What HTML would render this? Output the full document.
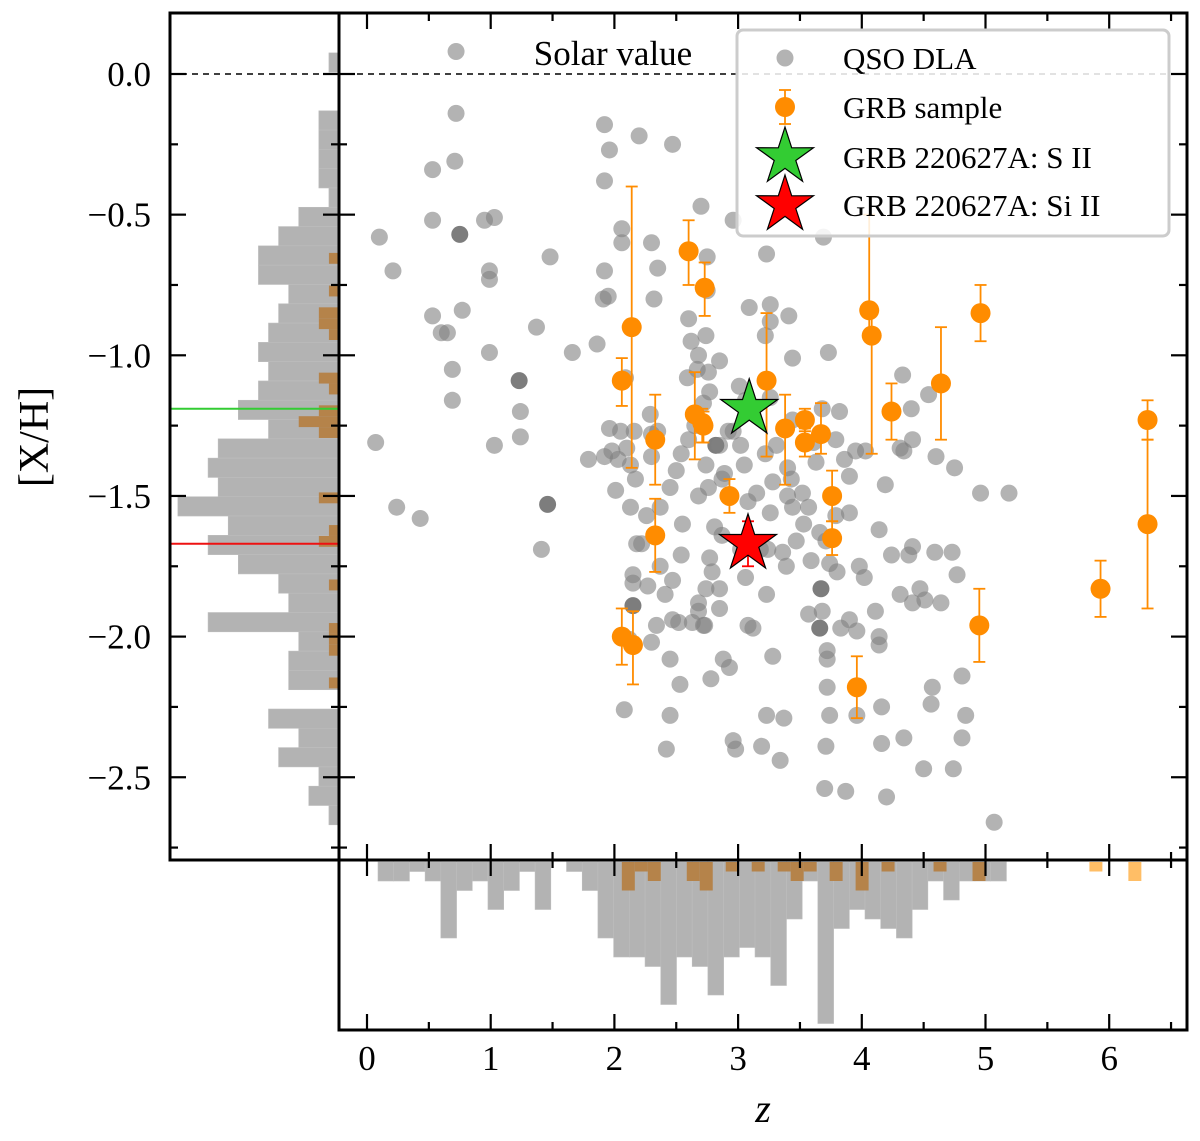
<!DOCTYPE html>
<html><head><meta charset="utf-8"><style>
body{margin:0;background:#fff;}
svg{display:block;font-family:"Liberation Serif",serif;}
</style></head><body>
<svg id="chart" width="1200" height="1141" viewBox="0 0 1200 1141" xmlns="http://www.w3.org/2000/svg">
<defs>
<clipPath id="mainClip"><rect x="339" y="13" width="848" height="847"/></clipPath>
<clipPath id="leftClip"><rect x="170" y="13" width="169" height="847"/></clipPath>
</defs>
<g id="left-hist" clip-path="url(#leftClip)"></g>
<g id="bottom-hist"></g>
<g id="main" clip-path="url(#mainClip)"></g>
<g id="axes"></g>
<g id="legend"></g>
</svg>
<script>
// ---- data ----
const qsoZ = [0.72,0.72,0.71,0.53,0.10,0.21,0.53,0.75,0.95,1.03,0.99,0.99,0.77,0.53,0.65,0.60,0.69,0.69,0.07,0.24,0.43,0.99,1.03,1.23,1.24,1.24,1.48,1.37,1.66,1.46,1.41,1.92,1.96,1.92,2.20,2.47,1.92,1.91,2.06,2.06,2.30,2.35,2.32,1.95,1.86,2.09,2.70,2.96,2.75,2.75,3.23,3.09,3.26,3.26,3.41,3.44,3.69,3.22,3.73,2.60,2.62,2.74,2.68,2.67,2.76,2.59,2.85,2.77,2.72,2.65,2.60,2.82,2.74,3.01,3.06,2.92,3.02,3.05,2.89,2.76,3.08,3.15,3.26,3.44,3.52,3.53,3.66,3.79,3.90,3.43,3.40,3.61,3.79,3.86,3.95,3.82,3.90,4.19,4.40,4.33,4.54,4.41,4.31,4.60,4.75,4.96,5.19,4.34,4.14,4.24,4.38,4.41,4.59,4.73,4.77,4.41,4.47,4.11,3.90,3.83,3.66,3.68,3.72,3.57,3.67,3.39,3.59,3.36,3.24,3.23,2.85,3.08,3.12,2.85,2.68,2.73,2.63,2.47,2.34,2.30,2.45,2.52,2.15,2.15,2.15,2.27,2.26,2.18,2.37,2.55,2.54,2.68,2.45,2.50,2.54,2.30,2.17,2.13,2.03,1.92,1.79,2.01,2.10,2.16,2.29,2.35,2.05,1.96,2.68,2.72,2.12,2.53,2.78,2.93,3.28,3.23,3.37,2.96,3.19,3.34,2.45,2.42,2.08,2.98,3.72,3.72,3.74,3.71,3.70,3.87,4.20,4.16,4.34,3.96,4.14,3.96,4.56,4.81,4.81,4.50,4.74,4.84,5.07,4.57,4.16,4.64,4.14,4.02,3.98,4.31,4.51,3.71,3.80,3.74,3.47,3.02,2.77,2.79,2.74,2.47,2.41,2.37,2.22,1.98,2.13,2.81,2.87,2.85,2.96,2.87,3.22,3.31,3.28,3.40,3.57,3.63,4.03,3.26,3.44,3.68,2.30,3.18,3.06,2.88];
const qsoXH = [0.08,-0.14,-0.31,-0.34,-0.58,-0.70,-0.52,-0.57,-0.52,-0.51,-0.70,-0.73,-0.84,-0.86,-0.92,-0.92,-1.05,-1.16,-1.31,-1.54,-1.58,-0.99,-1.32,-1.09,-1.29,-1.20,-0.65,-0.90,-0.99,-1.53,-1.69,-0.18,-0.27,-0.38,-0.22,-0.25,-0.70,-0.80,-0.55,-0.60,-0.60,-0.69,-0.80,-0.79,-0.96,-1.08,-0.47,-0.52,-0.65,-0.77,-0.64,-0.83,-0.82,-0.88,-0.86,-1.01,-0.58,-0.93,-0.99,-0.87,-0.95,-0.93,-1.00,-1.05,-1.06,-1.08,-1.02,-1.13,-1.17,-1.25,-1.30,-1.32,-1.39,-1.11,-1.16,-1.27,-1.32,-1.39,-1.42,-1.47,-1.52,-1.49,-1.56,-1.54,-1.49,-1.60,-1.63,-1.57,-1.56,-1.44,-1.40,-1.31,-1.30,-1.37,-1.34,-1.20,-1.43,-1.46,-1.19,-1.07,-1.14,-1.30,-1.33,-1.36,-1.40,-1.49,-1.49,-1.34,-1.62,-1.71,-1.71,-1.68,-1.70,-1.70,-1.78,-1.88,-1.83,-1.91,-1.94,-1.97,-1.97,-1.91,-2.05,-1.92,-1.83,-1.75,-1.73,-1.70,-1.69,-1.85,-1.83,-1.96,-1.97,-1.90,-1.91,-1.96,-1.95,-1.94,-1.96,-2.02,-2.08,-1.95,-1.89,-1.78,-1.81,-1.82,-1.57,-1.67,-1.54,-1.60,-1.71,-1.50,-1.47,-1.41,-1.35,-1.36,-1.44,-1.54,-1.37,-1.36,-1.37,-1.48,-1.33,-1.27,-1.21,-1.27,-1.27,-1.26,-1.88,-1.96,-2.01,-2.17,-2.15,-2.11,-2.07,-2.28,-2.29,-2.37,-2.39,-2.44,-2.28,-2.40,-2.26,-2.40,-2.08,-2.18,-2.28,-2.39,-2.54,-2.55,-2.57,-2.38,-2.36,-2.28,-2.00,-1.98,-2.24,-2.14,-2.36,-2.47,-2.47,-2.28,-2.66,-2.18,-2.25,-1.88,-2.03,-1.79,-1.75,-1.85,-1.87,-1.66,-1.77,-1.74,-1.66,-1.69,-1.72,-1.77,-1.83,-1.80,-1.85,-1.75,-1.67,-1.34,-1.39,-1.61,-1.64,-1.32,-1.27,-1.44,-1.35,-1.32,-1.45,-1.50,-1.54,-1.38,-1.34,-1.15,-1.23,-1.19,-1.28,-1.69,-1.79,-2.08];
const qsoDark = [7,23,29,71,120,124,142];
const grbZ =   [2.60,2.73,2.14,2.06,3.23,2.33,2.65,2.71,2.72,3.38,3.54,3.54,3.67,4.06,4.08,4.24,4.64,2.93,3.76,3.76,2.33,2.06,2.15,3.96,4.95,4.96,5.93,6.31,6.31];
const grbXH =  [-0.63,-0.76,-0.90,-1.09,-1.09,-1.30,-1.21,-1.24,-1.25,-1.26,-1.23,-1.31,-1.28,-0.84,-0.93,-1.20,-1.10,-1.50,-1.50,-1.65,-1.64,-2.00,-2.03,-2.18,-1.96,-0.85,-1.83,-1.23,-1.60];
const grbErrUp = [0.11,0.09,0.50,0.08,0.24,0.16,0.15,0.05,0.05,0.12,0.04,0.05,0.11,0.34,0.10,0.10,0.20,0.06,0.09,0.06,0.13,0.10,0.12,0.11,0.13,0.10,0.10,0.07,0.30];
const grbErrLo = [0.12,0.10,0.50,0.09,0.27,0.16,0.16,0.07,0.06,0.20,0.04,0.05,0.07,0.10,0.42,0.10,0.20,0.06,0.09,0.06,0.13,0.10,0.14,0.11,0.13,0.10,0.10,0.07,0.30];
const sStar = {z:3.09, xh:-1.19, err:0.03};
const siStar = {z:3.08, xh:-1.67, err:0.08};
const xhHistCounts = [1,0,0,2,2,2,2,1,4,6,8,8,5,6,7,8,7,8,10,7,12,13,12,16,11,13,10,6,5,13,4,5,5,0,7,4,6,2,3,1];
const xhHistStart = 0.075, xhHistWidth = 0.0686;
const xhGrbCounts = [1,0,0,1,0,2,2,1,0,0,0,2,1,0,2,4,2,0,0,0,0,0,2,0,0,1,2,0,0,0,1,0,0,0,1,1,1,0,0,1];
const xhGrbStart = -0.636, xhGrbWidth = 0.0387;
const zHistCounts = [2,2,1,2,8,3,2,5,3,1,5,0,1,3,8,10,10,11,15,10,11,14,10,9,10,13,6,2,17,7,5,6,7,8,5,2,4,2,2,2];
const zHistStart = 0.089, zHistWidth = 0.127;
const zGrbCounts = [3,1,2,0,0,2,3,0,1,0,1,0,1,2,1,0,2,0,3,0,1,0,0,0,1,0,0,2,0,0,0,0,0,0,0,0,1,0,0,2];
const zGrbStart = 2.06, zGrbWidth = 0.105;
const xTicks = [0,1,2,3,4,5,6];
const yTicks = [0,-0.5,-1,-1.5,-2,-2.5];
const yTickLabels = ["0.0","−0.5","−1.0","−1.5","−2.0","−2.5"];

// ---- axes functions ----
const X = z => 367 + z*123.7;
const Y = v => 74 - v*281.3;
const NS = "http://www.w3.org/2000/svg";
function mk(tag, attrs, parent){const e=document.createElementNS(NS,tag);for(const k in attrs)e.setAttribute(k,attrs[k]);parent.appendChild(e);return e;}
const main=document.getElementById('main'), axes=document.getElementById('axes'), leg=document.getElementById('legend');
const lh=document.getElementById('left-hist'), bh=document.getElementById('bottom-hist');

// left histogram (gray)
xhHistCounts.forEach((c,i)=>{ if(!c) return;
  const top=xhHistStart-i*xhHistWidth, w=c*10.07;
  const r=mk('rect',{x:339-w,y:Y(top),width:w,height:Y(top-xhHistWidth)-Y(top),fill:'#b3b3b3',stroke:'#bdbdbd','stroke-width':0.6},lh);
  
  
});
function grayAtXH(v){const i=Math.floor((xhHistStart-v)/xhHistWidth);return (i>=0&&i<xhHistCounts.length)?xhHistCounts[i]:0;}
xhGrbCounts.forEach((c,i)=>{ if(!c) return;
  const top=xhGrbStart-i*xhGrbWidth, g=grayAtXH(top-xhGrbWidth/2);
  const w=c*10.07, y=Y(top), h=Y(top-xhGrbWidth)-y;
  const r=mk('rect',{x:339-w,y:y,width:w,height:h,fill:(c<=g?'#b5834a':'#ffbe66')},lh);
  
  
});
// bottom histogram
zHistCounts.forEach((c,i)=>{ if(!c) return;
  const z0=zHistStart+i*zHistWidth;
  const r=mk('rect',{x:X(z0),y:862,width:X(z0+zHistWidth)-X(z0),height:c*9.5,fill:'#b3b3b3',stroke:'#bdbdbd','stroke-width':0.6},bh);
  
  
});
function grayAtZ(z){const i=Math.floor((z-zHistStart)/zHistWidth);return (i>=0&&i<zHistCounts.length)?zHistCounts[i]:0;}
zGrbCounts.forEach((c,i)=>{ if(!c) return;
  const z0=zGrbStart+i*zGrbWidth, g=grayAtZ(z0+zGrbWidth/2);
  const r=mk('rect',{x:X(z0),y:862,width:X(z0+zGrbWidth)-X(z0),height:c*9.5,fill:(c<=g?'#b5834a':'#ffbe66')},bh);
  
  
});
// reference lines in left panel
let ln=mk('line',{x1:170,x2:339,y1:Y(sStar.xh),y2:Y(sStar.xh),stroke:'#33cc33','stroke-width':2},lh);


ln=mk('line',{x1:170,x2:339,y1:Y(siStar.xh),y2:Y(siStar.xh),stroke:'#ee1111','stroke-width':2},lh);


// solar dashed line
ln=mk('line',{x1:170,x2:1187,y1:Y(0),y2:Y(0),stroke:'#000','stroke-width':1.6,'stroke-dasharray':'6,5'},axes);


let t=mk('text',{x:613,y:65,'font-size':35,'text-anchor':'middle',fill:'#000'},axes);t.textContent='Solar value';



// QSO points
qsoZ.forEach((z,i)=>{
  const c=mk('circle',{cx:X(z),cy:Y(qsoXH[i]),r:8.5,fill:qsoDark.includes(i)?'#666':'#808080','fill-opacity':qsoDark.includes(i)?0.85:0.6},main);
  
  
});
// GRB points
function errbar(g,x,y1,y2,col,cap){
  mk('line',{x1:x,x2:x,y1:y1,y2:y2,stroke:col,'stroke-width':1.8},g);
  mk('line',{x1:x-cap,x2:x+cap,y1:y1,y2:y1,stroke:col,'stroke-width':1.8},g);
  mk('line',{x1:x-cap,x2:x+cap,y1:y2,y2:y2,stroke:col,'stroke-width':1.8},g);
}
grbZ.forEach((z,i)=>{
  const g=mk('g',{},main);
  
  
  errbar(g,X(z),Y(grbXH[i]+grbErrUp[i]),Y(grbXH[i]-grbErrLo[i]),'#ff8c00',6);
  mk('circle',{cx:X(z),cy:Y(grbXH[i]),r:10,fill:'#ff8c00'},g);
});
function star(cx,cy,R,fill,parent){
  let p=[];for(let k=0;k<10;k++){const a=-Math.PI/2+k*Math.PI/5;const r=k%2?R*0.38:R;p.push((cx+r*Math.cos(a)).toFixed(1)+','+(cy+r*Math.sin(a)).toFixed(1));}
  return mk('polygon',{points:p.join(' '),fill:fill,stroke:'#000','stroke-width':1.2},parent);
}
[[sStar,'#33cc33','#33cc33','s-ii-star'],[siStar,'#ff0000','#ff0000','si-ii-star']].forEach(([s,f,ec,nm])=>{
  const g=mk('g',{},main);
  
  
  errbar(g,X(s.z),Y(s.xh+s.err),Y(s.xh-s.err),ec,6);
  star(X(s.z),Y(s.xh),30,f,g);
});

// frames
[[339,13,848,847,'main-frame'],[170,13,169,847,'left-hist-frame'],[339,860,848,170,'bottom-hist-frame']].forEach(([x,y,w,h,n])=>{
  const r=mk('rect',{x:x,y:y,width:w,height:h,fill:'none',stroke:'#000','stroke-width':3},axes);
  
  
});
// y ticks
for(let v=0.25;v>=-2.76;v-=0.25){
  const major=Math.abs(v*2-Math.round(v*2))<1e-6;const L=major?16:8;const y=Y(v);
  if(y<14||y>859) continue;
  [[170,1],[339,-1],[339,1],[1187,-1]].forEach(([x0,d])=>mk('line',{x1:x0,x2:x0+d*L,y1:y,y2:y,stroke:'#000','stroke-width':2.2},axes));
}
yTicks.forEach((v,i)=>{const tt=mk('text',{x:151,y:Y(v)+12,'font-size':35,'text-anchor':'end'},axes);tt.textContent=yTickLabels[i];
  
  });
// x ticks
for(let z=0;z<=6.6;z+=0.5){
  const major=Math.abs(z-Math.round(z))<1e-6;const L=major?16:8;const x=X(z);
  [[13,1],[860,-1],[860,1],[1030,-1]].forEach(([y0,d])=>mk('line',{x1:x,x2:x,y1:y0,y2:y0+d*L,stroke:'#000','stroke-width':2.2},axes));
}
xTicks.forEach(z=>{const tt=mk('text',{x:X(z),y:1070,'font-size':35,'text-anchor':'middle'},axes);tt.textContent=String(z);
  
  });
t=mk('text',{x:763,y:1122,'font-size':40,'font-style':'italic','text-anchor':'middle'},axes);t.textContent='z';


t=mk('text',{x:0,y:0,'font-size':42,'text-anchor':'middle',transform:'translate(48,437) rotate(-90)'},axes);t.textContent='[X/H]';



// legend
const box=mk('rect',{x:737,y:30,width:432,height:206,rx:6,fill:'#fff','fill-opacity':0.85,stroke:'#cccccc','stroke-width':3},leg);


const items=[['QSO DLA',58],['GRB sample',107],['GRB 220627A: S II',157],['GRB 220627A: Si II',205]];
items.forEach(([lab,y],i)=>{
  const g=mk('g',{},leg);
  
  
  if(i===0) mk('circle',{cx:785,cy:y,r:8.5,fill:'#808080','fill-opacity':0.6},g);
  if(i===1){errbar(g,785,y-17,y+17,'#ff8c00',6);mk('circle',{cx:785,cy:y,r:10,fill:'#ff8c00'},g);}
  if(i===2) star(785,y,30,'#33cc33',g);
  if(i===3) star(785,y,30,'#ff0000',g);
  const tt=mk('text',{x:843,y:y+11,'font-size':31},g);tt.textContent=lab;
});
</script>
</body></html>
